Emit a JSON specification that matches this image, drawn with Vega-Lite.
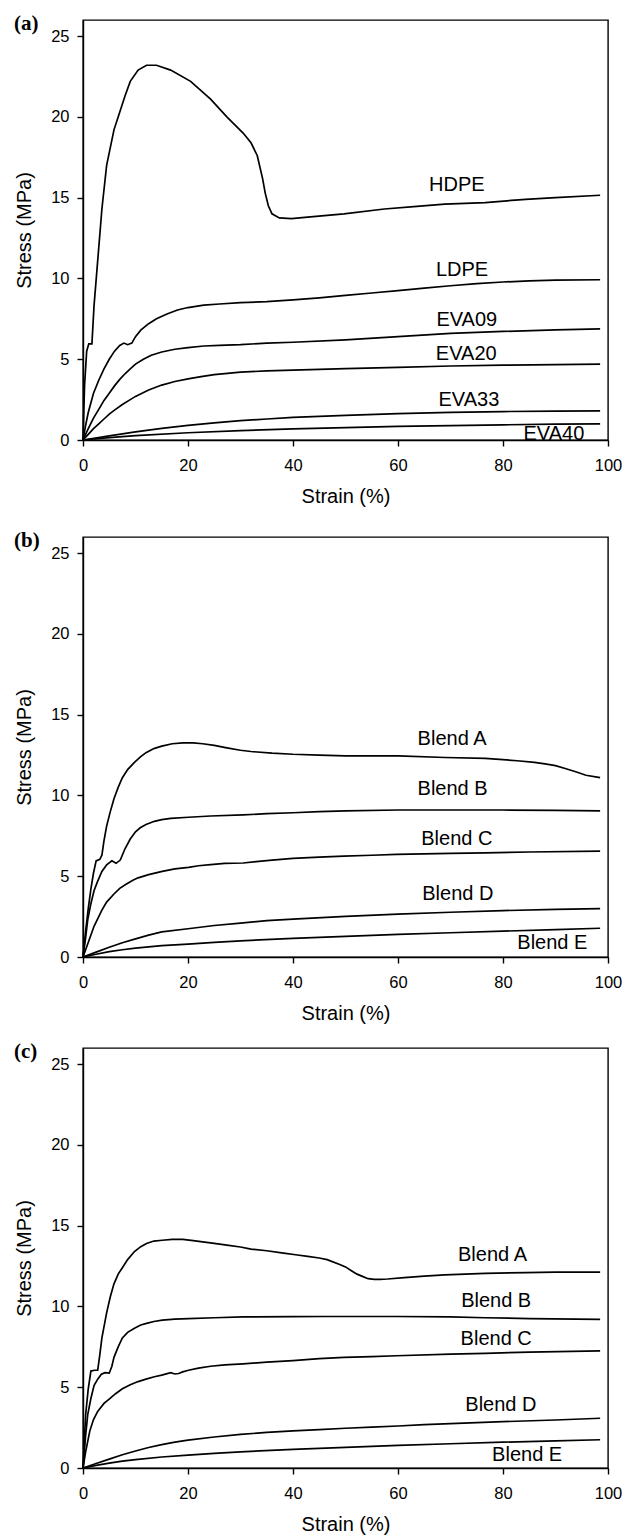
{
"$schema": "https://vega.github.io/schema/vega-lite/v6.json",
"padding": {"left": 13, "top": 12, "right": 0, "bottom": 0},
"background": "white",
"spacing": 21,
"config": {
  "font": "Liberation Sans",
  "view": {"stroke": "black", "strokeWidth": 1.4},
  "axis": {"grid": false, "domainColor": "black", "domainWidth": 1.4, "tickColor": "black", "tickWidth": 1.4, "tickSize": 6, "labelFont": "Liberation Sans", "labelFontSize": 16.5, "labelColor": "black", "labelFlush": false, "labelOverlap": false, "titleFont": "Liberation Sans", "titleFontSize": 20, "titleFontWeight": "normal", "titleColor": "black"},
  "axisX": {"titlePadding": 13, "labelPadding": 11},
  "axisY": {"titlePadding": 16, "labelPadding": 8},
  "line": {"color": "black", "strokeWidth": 1.7},
  "text": {"font": "Liberation Sans", "fontSize": 20, "color": "black"},
  "title": {"font": "Liberation Serif", "fontWeight": "bold", "fontSize": 21, "color": "black", "anchor": "start", "frame": "group", "baseline": "alphabetic", "dx": -69, "offset": -14}
},
"datasets": {
  "a": [
    {"s":"HDPE","x":0,"y":0},{"s":"HDPE","x":0.3,"y":3.4},{"s":"HDPE","x":0.7,"y":5.5},{"s":"HDPE","x":1.1,"y":5.95},{"s":"HDPE","x":1.7,"y":5.95},{"s":"HDPE","x":2.1,"y":8.3},{"s":"HDPE","x":2.7,"y":10.7},{"s":"HDPE","x":3.6,"y":14.3},{"s":"HDPE","x":4.5,"y":17.0},{"s":"HDPE","x":5.9,"y":19.2},{"s":"HDPE","x":7.1,"y":20.4},{"s":"HDPE","x":8,"y":21.3},{"s":"HDPE","x":9,"y":22.2},{"s":"HDPE","x":10.5,"y":22.9},{"s":"HDPE","x":12.1,"y":23.2},{"s":"HDPE","x":14,"y":23.2},{"s":"HDPE","x":16.7,"y":22.9},{"s":"HDPE","x":20.5,"y":22.2},{"s":"HDPE","x":24.3,"y":21.1},{"s":"HDPE","x":27.4,"y":20.0},{"s":"HDPE","x":30.5,"y":19.0},{"s":"HDPE","x":32,"y":18.4},{"s":"HDPE","x":33.2,"y":17.6},{"s":"HDPE","x":34.2,"y":16.2},{"s":"HDPE","x":34.7,"y":15.3},{"s":"HDPE","x":35.3,"y":14.5},{"s":"HDPE","x":36,"y":14.0},{"s":"HDPE","x":37.4,"y":13.75},{"s":"HDPE","x":39.7,"y":13.7},{"s":"HDPE","x":42.8,"y":13.8},{"s":"HDPE","x":49.7,"y":14.0},{"s":"HDPE","x":57.4,"y":14.3},{"s":"HDPE","x":63,"y":14.45},{"s":"HDPE","x":68.9,"y":14.6},{"s":"HDPE","x":76.6,"y":14.7},{"s":"HDPE","x":84.3,"y":14.9},{"s":"HDPE","x":90,"y":15.0},{"s":"HDPE","x":98.5,"y":15.15},
    {"s":"LDPE","x":0,"y":0},{"s":"LDPE","x":0.5,"y":0.9},{"s":"LDPE","x":1,"y":1.7},{"s":"LDPE","x":2,"y":2.9},{"s":"LDPE","x":3,"y":3.7},{"s":"LDPE","x":4,"y":4.4},{"s":"LDPE","x":5,"y":5.0},{"s":"LDPE","x":6,"y":5.5},{"s":"LDPE","x":7,"y":5.85},{"s":"LDPE","x":7.8,"y":6.0},{"s":"LDPE","x":8.5,"y":5.9},{"s":"LDPE","x":9.3,"y":6.0},{"s":"LDPE","x":10,"y":6.4},{"s":"LDPE","x":11,"y":6.8},{"s":"LDPE","x":12.5,"y":7.2},{"s":"LDPE","x":14,"y":7.5},{"s":"LDPE","x":16,"y":7.8},{"s":"LDPE","x":18,"y":8.05},{"s":"LDPE","x":20,"y":8.2},{"s":"LDPE","x":23,"y":8.35},{"s":"LDPE","x":26,"y":8.42},{"s":"LDPE","x":30,"y":8.5},{"s":"LDPE","x":35,"y":8.57},{"s":"LDPE","x":40,"y":8.68},{"s":"LDPE","x":45,"y":8.8},{"s":"LDPE","x":50,"y":8.95},{"s":"LDPE","x":55,"y":9.1},{"s":"LDPE","x":60,"y":9.25},{"s":"LDPE","x":65,"y":9.4},{"s":"LDPE","x":70,"y":9.55},{"s":"LDPE","x":75,"y":9.68},{"s":"LDPE","x":80,"y":9.78},{"s":"LDPE","x":85,"y":9.85},{"s":"LDPE","x":90,"y":9.9},{"s":"LDPE","x":98.5,"y":9.92},
    {"s":"EVA09","x":0,"y":0},{"s":"EVA09","x":1,"y":0.7},{"s":"EVA09","x":2,"y":1.35},{"s":"EVA09","x":3,"y":1.9},{"s":"EVA09","x":4,"y":2.45},{"s":"EVA09","x":5,"y":2.9},{"s":"EVA09","x":6,"y":3.35},{"s":"EVA09","x":7,"y":3.75},{"s":"EVA09","x":8,"y":4.1},{"s":"EVA09","x":9,"y":4.4},{"s":"EVA09","x":10,"y":4.7},{"s":"EVA09","x":11.5,"y":5.0},{"s":"EVA09","x":13,"y":5.25},{"s":"EVA09","x":15,"y":5.45},{"s":"EVA09","x":17.5,"y":5.62},{"s":"EVA09","x":20,"y":5.72},{"s":"EVA09","x":23,"y":5.82},{"s":"EVA09","x":26,"y":5.86},{"s":"EVA09","x":30,"y":5.9},{"s":"EVA09","x":35,"y":6.0},{"s":"EVA09","x":40,"y":6.05},{"s":"EVA09","x":50,"y":6.2},{"s":"EVA09","x":60,"y":6.4},{"s":"EVA09","x":70,"y":6.6},{"s":"EVA09","x":80,"y":6.72},{"s":"EVA09","x":90,"y":6.82},{"s":"EVA09","x":98.5,"y":6.88},
    {"s":"EVA20","x":0,"y":0},{"s":"EVA20","x":1,"y":0.35},{"s":"EVA20","x":2,"y":0.7},{"s":"EVA20","x":3,"y":1.0},{"s":"EVA20","x":4,"y":1.3},{"s":"EVA20","x":5,"y":1.6},{"s":"EVA20","x":6,"y":1.85},{"s":"EVA20","x":7.5,"y":2.2},{"s":"EVA20","x":9,"y":2.5},{"s":"EVA20","x":10,"y":2.7},{"s":"EVA20","x":12.5,"y":3.1},{"s":"EVA20","x":15,"y":3.4},{"s":"EVA20","x":17.5,"y":3.62},{"s":"EVA20","x":20,"y":3.78},{"s":"EVA20","x":22.5,"y":3.92},{"s":"EVA20","x":25,"y":4.05},{"s":"EVA20","x":30,"y":4.2},{"s":"EVA20","x":35,"y":4.28},{"s":"EVA20","x":40,"y":4.33},{"s":"EVA20","x":50,"y":4.42},{"s":"EVA20","x":60,"y":4.5},{"s":"EVA20","x":70,"y":4.58},{"s":"EVA20","x":80,"y":4.63},{"s":"EVA20","x":90,"y":4.67},{"s":"EVA20","x":98.5,"y":4.7},
    {"s":"EVA33","x":0,"y":0},{"s":"EVA33","x":5,"y":0.25},{"s":"EVA33","x":10,"y":0.5},{"s":"EVA33","x":15,"y":0.72},{"s":"EVA33","x":20,"y":0.9},{"s":"EVA33","x":25,"y":1.06},{"s":"EVA33","x":30,"y":1.2},{"s":"EVA33","x":35,"y":1.3},{"s":"EVA33","x":40,"y":1.4},{"s":"EVA33","x":50,"y":1.53},{"s":"EVA33","x":60,"y":1.63},{"s":"EVA33","x":70,"y":1.71},{"s":"EVA33","x":80,"y":1.76},{"s":"EVA33","x":90,"y":1.79},{"s":"EVA33","x":98.5,"y":1.8},
    {"s":"EVA40","x":0,"y":0},{"s":"EVA40","x":5,"y":0.15},{"s":"EVA40","x":10,"y":0.27},{"s":"EVA40","x":20,"y":0.45},{"s":"EVA40","x":30,"y":0.58},{"s":"EVA40","x":40,"y":0.69},{"s":"EVA40","x":50,"y":0.77},{"s":"EVA40","x":60,"y":0.84},{"s":"EVA40","x":70,"y":0.89},{"s":"EVA40","x":80,"y":0.94},{"s":"EVA40","x":90,"y":0.98},{"s":"EVA40","x":98.5,"y":1.0}
  ],
  "b": [
    {"s":"A","x":0,"y":0},{"s":"A","x":0.5,"y":1.6},{"s":"A","x":1,"y":3.0},{"s":"A","x":1.5,"y":4.2},{"s":"A","x":2,"y":5.2},{"s":"A","x":2.5,"y":5.95},{"s":"A","x":3.2,"y":6.05},{"s":"A","x":3.6,"y":6.3},{"s":"A","x":4.0,"y":7.2},{"s":"A","x":4.5,"y":8.1},{"s":"A","x":5.2,"y":9.0},{"s":"A","x":5.9,"y":9.8},{"s":"A","x":6.7,"y":10.5},{"s":"A","x":7.5,"y":11.1},{"s":"A","x":8.5,"y":11.6},{"s":"A","x":9.8,"y":12.05},{"s":"A","x":11,"y":12.4},{"s":"A","x":12,"y":12.65},{"s":"A","x":13.5,"y":12.9},{"s":"A","x":15,"y":13.05},{"s":"A","x":17,"y":13.2},{"s":"A","x":19,"y":13.25},{"s":"A","x":21,"y":13.25},{"s":"A","x":22.8,"y":13.2},{"s":"A","x":25,"y":13.1},{"s":"A","x":27.4,"y":12.95},{"s":"A","x":30,"y":12.8},{"s":"A","x":32,"y":12.72},{"s":"A","x":36,"y":12.62},{"s":"A","x":40,"y":12.55},{"s":"A","x":45,"y":12.5},{"s":"A","x":50,"y":12.45},{"s":"A","x":60,"y":12.45},{"s":"A","x":69,"y":12.35},{"s":"A","x":76.6,"y":12.3},{"s":"A","x":82.7,"y":12.15},{"s":"A","x":86,"y":12.05},{"s":"A","x":88,"y":11.95},{"s":"A","x":90,"y":11.85},{"s":"A","x":92,"y":11.65},{"s":"A","x":94,"y":11.45},{"s":"A","x":95.8,"y":11.25},{"s":"A","x":98.5,"y":11.1},
    {"s":"B","x":0,"y":0},{"s":"B","x":0.5,"y":1.2},{"s":"B","x":0.9,"y":2.3},{"s":"B","x":1.5,"y":3.3},{"s":"B","x":2.1,"y":4.1},{"s":"B","x":2.8,"y":4.7},{"s":"B","x":3.6,"y":5.3},{"s":"B","x":4.5,"y":5.7},{"s":"B","x":5.5,"y":5.95},{"s":"B","x":6.3,"y":5.8},{"s":"B","x":7.1,"y":6.0},{"s":"B","x":8,"y":6.7},{"s":"B","x":9,"y":7.3},{"s":"B","x":10,"y":7.75},{"s":"B","x":10.9,"y":8.0},{"s":"B","x":12,"y":8.2},{"s":"B","x":13.6,"y":8.4},{"s":"B","x":15,"y":8.5},{"s":"B","x":16.7,"y":8.58},{"s":"B","x":20.1,"y":8.65},{"s":"B","x":24.3,"y":8.73},{"s":"B","x":30.5,"y":8.8},{"s":"B","x":35,"y":8.87},{"s":"B","x":40,"y":8.93},{"s":"B","x":45,"y":9.0},{"s":"B","x":50,"y":9.05},{"s":"B","x":60,"y":9.1},{"s":"B","x":70,"y":9.1},{"s":"B","x":80,"y":9.1},{"s":"B","x":90,"y":9.08},{"s":"B","x":98.5,"y":9.05},
    {"s":"C","x":0,"y":0},{"s":"C","x":1,"y":0.9},{"s":"C","x":2.1,"y":1.9},{"s":"C","x":3,"y":2.5},{"s":"C","x":3.6,"y":2.9},{"s":"C","x":4.5,"y":3.4},{"s":"C","x":5.9,"y":3.9},{"s":"C","x":7,"y":4.25},{"s":"C","x":8.2,"y":4.5},{"s":"C","x":9.5,"y":4.75},{"s":"C","x":10.5,"y":4.9},{"s":"C","x":12.5,"y":5.1},{"s":"C","x":15.1,"y":5.3},{"s":"C","x":17.5,"y":5.45},{"s":"C","x":20.1,"y":5.55},{"s":"C","x":22,"y":5.65},{"s":"C","x":24.3,"y":5.72},{"s":"C","x":27,"y":5.8},{"s":"C","x":30.5,"y":5.82},{"s":"C","x":33,"y":5.9},{"s":"C","x":36,"y":6.0},{"s":"C","x":40,"y":6.1},{"s":"C","x":45,"y":6.18},{"s":"C","x":49.7,"y":6.25},{"s":"C","x":55,"y":6.3},{"s":"C","x":59.7,"y":6.35},{"s":"C","x":70,"y":6.42},{"s":"C","x":76.6,"y":6.45},{"s":"C","x":85,"y":6.5},{"s":"C","x":98.5,"y":6.55},
    {"s":"D","x":0,"y":0},{"s":"D","x":2.5,"y":0.3},{"s":"D","x":5,"y":0.6},{"s":"D","x":7.5,"y":0.88},{"s":"D","x":10,"y":1.12},{"s":"D","x":12.5,"y":1.35},{"s":"D","x":15,"y":1.55},{"s":"D","x":20,"y":1.75},{"s":"D","x":25,"y":1.95},{"s":"D","x":30,"y":2.1},{"s":"D","x":35,"y":2.25},{"s":"D","x":40,"y":2.35},{"s":"D","x":50,"y":2.52},{"s":"D","x":60,"y":2.65},{"s":"D","x":70,"y":2.77},{"s":"D","x":80,"y":2.87},{"s":"D","x":90,"y":2.95},{"s":"D","x":98.5,"y":3.0},
    {"s":"E","x":0,"y":0},{"s":"E","x":2.5,"y":0.17},{"s":"E","x":5,"y":0.33},{"s":"E","x":7.5,"y":0.45},{"s":"E","x":10,"y":0.55},{"s":"E","x":15,"y":0.7},{"s":"E","x":20,"y":0.8},{"s":"E","x":25,"y":0.9},{"s":"E","x":30,"y":1.0},{"s":"E","x":40,"y":1.15},{"s":"E","x":50,"y":1.28},{"s":"E","x":60,"y":1.4},{"s":"E","x":70,"y":1.5},{"s":"E","x":80,"y":1.6},{"s":"E","x":90,"y":1.7},{"s":"E","x":98.5,"y":1.78}
  ],
  "c": [
    {"s":"A","x":0,"y":0},{"s":"A","x":0.5,"y":3.3},{"s":"A","x":1,"y":4.9},{"s":"A","x":1.5,"y":6.0},{"s":"A","x":2.2,"y":6.05},{"s":"A","x":2.8,"y":6.05},{"s":"A","x":3.2,"y":7.0},{"s":"A","x":3.6,"y":8.05},{"s":"A","x":4.5,"y":9.6},{"s":"A","x":5.2,"y":10.6},{"s":"A","x":5.9,"y":11.4},{"s":"A","x":6.7,"y":12.0},{"s":"A","x":7.5,"y":12.4},{"s":"A","x":8.5,"y":12.9},{"s":"A","x":9.8,"y":13.4},{"s":"A","x":11,"y":13.7},{"s":"A","x":12.1,"y":13.9},{"s":"A","x":13.5,"y":14.05},{"s":"A","x":15.1,"y":14.1},{"s":"A","x":17,"y":14.15},{"s":"A","x":19,"y":14.15},{"s":"A","x":21,"y":14.08},{"s":"A","x":22.8,"y":14.0},{"s":"A","x":25,"y":13.9},{"s":"A","x":27.4,"y":13.8},{"s":"A","x":30,"y":13.68},{"s":"A","x":32,"y":13.55},{"s":"A","x":35,"y":13.45},{"s":"A","x":38.2,"y":13.3},{"s":"A","x":40.5,"y":13.2},{"s":"A","x":42.8,"y":13.1},{"s":"A","x":45,"y":13.0},{"s":"A","x":46.5,"y":12.9},{"s":"A","x":48.9,"y":12.6},{"s":"A","x":50,"y":12.45},{"s":"A","x":51.2,"y":12.2},{"s":"A","x":52.2,"y":12.0},{"s":"A","x":53.1,"y":11.88},{"s":"A","x":54.3,"y":11.72},{"s":"A","x":55.5,"y":11.68},{"s":"A","x":56.6,"y":11.68},{"s":"A","x":58,"y":11.7},{"s":"A","x":61.2,"y":11.78},{"s":"A","x":65,"y":11.88},{"s":"A","x":68.9,"y":11.95},{"s":"A","x":76.6,"y":12.05},{"s":"A","x":84.3,"y":12.1},{"s":"A","x":90,"y":12.12},{"s":"A","x":98.5,"y":12.12},
    {"s":"B","x":0,"y":0},{"s":"B","x":0.5,"y":2.0},{"s":"B","x":0.9,"y":3.3},{"s":"B","x":1.5,"y":4.3},{"s":"B","x":2.1,"y":5.1},{"s":"B","x":2.8,"y":5.5},{"s":"B","x":3.5,"y":5.8},{"s":"B","x":4.2,"y":5.9},{"s":"B","x":5,"y":5.87},{"s":"B","x":5.5,"y":6.3},{"s":"B","x":5.9,"y":6.85},{"s":"B","x":6.7,"y":7.5},{"s":"B","x":7.5,"y":8.05},{"s":"B","x":8.5,"y":8.4},{"s":"B","x":9.8,"y":8.65},{"s":"B","x":11,"y":8.85},{"s":"B","x":12.1,"y":8.95},{"s":"B","x":13.5,"y":9.07},{"s":"B","x":15.1,"y":9.15},{"s":"B","x":17.5,"y":9.22},{"s":"B","x":20.1,"y":9.25},{"s":"B","x":25,"y":9.3},{"s":"B","x":30.5,"y":9.35},{"s":"B","x":40,"y":9.37},{"s":"B","x":45.9,"y":9.38},{"s":"B","x":59.7,"y":9.38},{"s":"B","x":70,"y":9.35},{"s":"B","x":76.6,"y":9.3},{"s":"B","x":85,"y":9.25},{"s":"B","x":98.5,"y":9.2},
    {"s":"C","x":0,"y":0},{"s":"C","x":0.5,"y":1.0},{"s":"C","x":1.3,"y":2.3},{"s":"C","x":2,"y":3.0},{"s":"C","x":2.8,"y":3.5},{"s":"C","x":4,"y":4.0},{"s":"C","x":5.1,"y":4.3},{"s":"C","x":6.2,"y":4.6},{"s":"C","x":7.5,"y":4.9},{"s":"C","x":9,"y":5.15},{"s":"C","x":10.5,"y":5.35},{"s":"C","x":12,"y":5.5},{"s":"C","x":13.6,"y":5.65},{"s":"C","x":15,"y":5.75},{"s":"C","x":16.7,"y":5.9},{"s":"C","x":17.5,"y":5.82},{"s":"C","x":18.2,"y":5.85},{"s":"C","x":19,"y":5.95},{"s":"C","x":20.1,"y":6.05},{"s":"C","x":22,"y":6.18},{"s":"C","x":24.3,"y":6.3},{"s":"C","x":27,"y":6.38},{"s":"C","x":30.5,"y":6.45},{"s":"C","x":35,"y":6.55},{"s":"C","x":40,"y":6.65},{"s":"C","x":45,"y":6.77},{"s":"C","x":49.7,"y":6.85},{"s":"C","x":55,"y":6.9},{"s":"C","x":59.7,"y":6.95},{"s":"C","x":70,"y":7.05},{"s":"C","x":76.6,"y":7.1},{"s":"C","x":85,"y":7.17},{"s":"C","x":98.5,"y":7.25},
    {"s":"D","x":0,"y":0},{"s":"D","x":2.5,"y":0.28},{"s":"D","x":5,"y":0.55},{"s":"D","x":7.5,"y":0.82},{"s":"D","x":10,"y":1.05},{"s":"D","x":12.5,"y":1.27},{"s":"D","x":15,"y":1.45},{"s":"D","x":17.5,"y":1.6},{"s":"D","x":20,"y":1.72},{"s":"D","x":25,"y":1.92},{"s":"D","x":30,"y":2.08},{"s":"D","x":35,"y":2.2},{"s":"D","x":40,"y":2.3},{"s":"D","x":45,"y":2.38},{"s":"D","x":50,"y":2.46},{"s":"D","x":55,"y":2.53},{"s":"D","x":60,"y":2.6},{"s":"D","x":65,"y":2.68},{"s":"D","x":70,"y":2.75},{"s":"D","x":80,"y":2.87},{"s":"D","x":90,"y":2.97},{"s":"D","x":98.5,"y":3.08},
    {"s":"E","x":0,"y":0},{"s":"E","x":2.5,"y":0.16},{"s":"E","x":5,"y":0.3},{"s":"E","x":7.5,"y":0.42},{"s":"E","x":10,"y":0.52},{"s":"E","x":15,"y":0.68},{"s":"E","x":20,"y":0.8},{"s":"E","x":25,"y":0.9},{"s":"E","x":30,"y":1.0},{"s":"E","x":40,"y":1.15},{"s":"E","x":50,"y":1.28},{"s":"E","x":60,"y":1.4},{"s":"E","x":70,"y":1.5},{"s":"E","x":80,"y":1.6},{"s":"E","x":90,"y":1.68},{"s":"E","x":98.5,"y":1.75}
  ],
  "la": [
    {"t":"HDPE","x":71.2,"y":15.8},{"t":"LDPE","x":72.2,"y":10.5},{"t":"EVA09","x":73.1,"y":7.45},{"t":"EVA20","x":73,"y":5.35},{"t":"EVA33","x":73.5,"y":2.5},{"t":"EVA40","x":89.7,"y":0.36}
  ],
  "lb": [
    {"t":"Blend A","x":70.3,"y":13.5},{"t":"Blend B","x":70.4,"y":10.4},{"t":"Blend C","x":71.2,"y":7.3},{"t":"Blend D","x":71.4,"y":3.9},{"t":"Blend E","x":89.4,"y":0.85}
  ],
  "lc": [
    {"t":"Blend A","x":78,"y":13.2},{"t":"Blend B","x":78.7,"y":10.35},{"t":"Blend C","x":78.7,"y":8.0},{"t":"Blend D","x":79.6,"y":3.9},{"t":"Blend E","x":84.6,"y":0.8}
  ]
},
"vconcat": [
  {
    "width": 525, "height": 420,
    "title": {"text": "(a)"},
    "layer": [
      {"data": {"name": "a"}, "mark": "line",
       "encoding": {
         "x": {"field": "x", "type": "quantitative", "scale": {"domain": [0, 100]}, "axis": {"values": [0,20,40,60,80,100], "title": "Strain (%)"}},
         "y": {"field": "y", "type": "quantitative", "scale": {"domain": [0, 25]}, "axis": {"values": [0,5,10,15,20,25], "title": "Stress (MPa)"}},
         "detail": {"field": "s"}}},
      {"data": {"name": "la"}, "mark": {"type": "text", "align": "center", "baseline": "middle"},
       "encoding": {"x": {"field": "x", "type": "quantitative"}, "y": {"field": "y", "type": "quantitative"}, "text": {"field": "t"}}}
    ]
  },
  {
    "spacing": 15,
    "vconcat": [
      {
        "width": 525, "height": 420,
        "title": {"text": "(b)"},
        "layer": [
          {"data": {"name": "b"}, "mark": "line",
           "encoding": {
             "x": {"field": "x", "type": "quantitative", "scale": {"domain": [0, 100]}, "axis": {"values": [0,20,40,60,80,100], "title": "Strain (%)"}},
             "y": {"field": "y", "type": "quantitative", "scale": {"domain": [0, 25]}, "axis": {"values": [0,5,10,15,20,25], "title": "Stress (MPa)"}},
             "detail": {"field": "s"}}},
          {"data": {"name": "lb"}, "mark": {"type": "text", "align": "center", "baseline": "middle"},
           "encoding": {"x": {"field": "x", "type": "quantitative"}, "y": {"field": "y", "type": "quantitative"}, "text": {"field": "t"}}}
        ]
      },
      {
        "width": 525, "height": 420,
        "title": {"text": "(c)"},
        "layer": [
          {"data": {"name": "c"}, "mark": "line",
           "encoding": {
             "x": {"field": "x", "type": "quantitative", "scale": {"domain": [0, 100]}, "axis": {"values": [0,20,40,60,80,100], "title": "Strain (%)"}},
             "y": {"field": "y", "type": "quantitative", "scale": {"domain": [0, 25]}, "axis": {"values": [0,5,10,15,20,25], "title": "Stress (MPa)"}},
             "detail": {"field": "s"}}},
          {"data": {"name": "lc"}, "mark": {"type": "text", "align": "center", "baseline": "middle"},
           "encoding": {"x": {"field": "x", "type": "quantitative"}, "y": {"field": "y", "type": "quantitative"}, "text": {"field": "t"}}}
        ]
      }
    ]
  }
]
}
